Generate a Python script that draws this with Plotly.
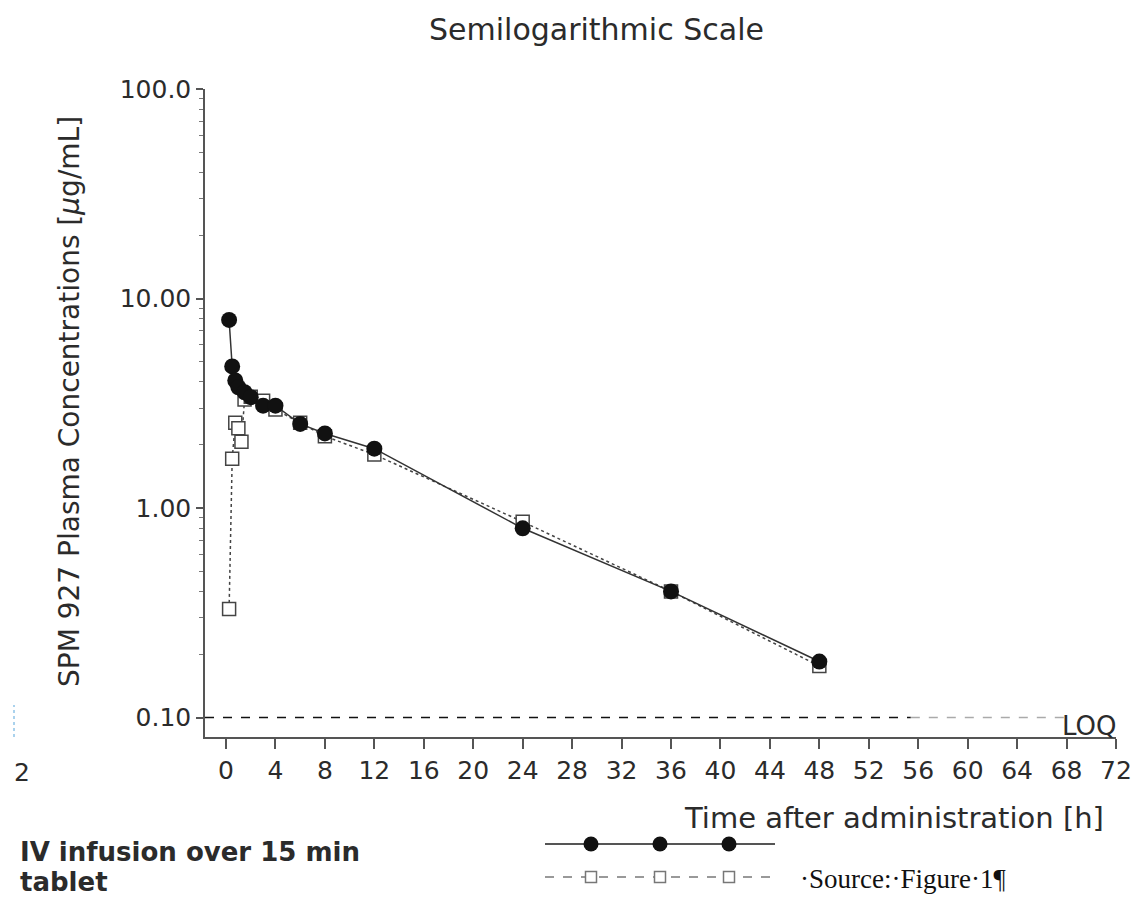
import plotly.graph_objects as go

# ---------------- data ----------------
iv_time = [0.25, 0.5, 0.75, 1, 1.5, 2, 3, 4, 6, 8, 12, 24, 36, 48]
iv_conc = [7.9, 4.74, 4.06, 3.77, 3.57, 3.38, 3.08, 3.08, 2.52, 2.27, 1.92, 0.80, 0.40, 0.185]

tab_time = [0.25, 0.5, 0.75, 1, 1.25, 1.5, 2, 3, 4, 6, 8, 12, 24, 36, 48]
tab_conc = [0.33, 1.72, 2.55, 2.4, 2.07, 3.3, 3.4, 3.25, 2.95, 2.55, 2.2, 1.8, 0.86, 0.40, 0.176]

x_ticks = list(range(0, 73, 4))
y_tick_vals = [0.1, 1, 10, 100]
y_tick_text = ["0.10", "1.00", "10.00", "100.0"]
y_minor_vals = [m * d for d in (0.1, 1, 10) for m in range(2, 10)]

LOQ = 0.1
series_names = ["IV infusion over 15 min", "tablet"]

W, H = 1137, 897
FONT = "DejaVu Sans"
TXT = "#2b2b2b"
AX = "#555555"

def px(x):
    return x / W

def py(y):
    return 1 - y / H

fig = go.Figure()

fig.add_trace(go.Scatter(
    x=tab_time, y=tab_conc, mode="lines+markers", name=series_names[1],
    line=dict(color="#444444", width=1.5, dash="dot"),
    marker=dict(symbol="square", size=13, color="white",
                line=dict(color="#444444", width=1.5)),
    showlegend=False, xaxis="x", yaxis="y"))

fig.add_trace(go.Scatter(
    x=iv_time, y=iv_conc, mode="lines+markers", name=series_names[0],
    line=dict(color="#333333", width=1.5),
    marker=dict(symbol="circle", size=16, color="#111111"),
    showlegend=False, xaxis="x", yaxis="y"))

# ---------- custom legend keys ----------
key_line_x = [0, 1]
key_mark_x = [0.2, 0.5, 0.8]
row_iv, row_tab = 0.8, 0.25
fig.add_trace(go.Scatter(x=key_line_x, y=[row_iv] * 2, mode="lines",
                         line=dict(color="#555555", width=2),
                         showlegend=False, xaxis="x2", yaxis="y2", hoverinfo="skip"))
fig.add_trace(go.Scatter(x=key_mark_x, y=[row_iv] * 3, mode="markers",
                         marker=dict(symbol="circle", size=15, color="#111111"),
                         showlegend=False, xaxis="x2", yaxis="y2", hoverinfo="skip"))
fig.add_trace(go.Scatter(x=key_line_x, y=[row_tab] * 2, mode="lines",
                         line=dict(color="#999999", width=2, dash="dash"),
                         showlegend=False, xaxis="x2", yaxis="y2", hoverinfo="skip"))
fig.add_trace(go.Scatter(x=key_mark_x, y=[row_tab] * 3, mode="markers",
                         marker=dict(symbol="square", size=11, color="white",
                                     line=dict(color="#777777", width=1.5)),
                         showlegend=False, xaxis="x2", yaxis="y2", hoverinfo="skip"))

# ---------- LOQ line ----------
fig.add_shape(type="line", xref="x", yref="y", x0=-1.7, x1=55.4, y0=LOQ, y1=LOQ,
              line=dict(color="#111111", width=1.5, dash="dash"))
fig.add_shape(type="line", xref="x", yref="y", x0=55.4, x1=68, y0=LOQ, y1=LOQ,
              line=dict(color="#aaaaaa", width=1.5, dash="dash"))

# stray blue mark at left edge
fig.add_shape(type="line", xref="paper", yref="paper", x0=px(14), x1=px(14),
              y0=py(737), y1=py(705), line=dict(color="#8fc4e8", width=1.5, dash="dot"))

def note(text, x, y, size, xanchor="center", family=FONT, color=TXT, angle=0):
    return dict(text=text, x=px(x), y=py(y), xref="paper", yref="paper",
                xanchor=xanchor, yanchor="middle", showarrow=False, textangle=angle,
                font=dict(family=family, size=size, color=color))

ann = [
    note("Semilogarithmic Scale", 596, 30, 30),
    note("SPM 927 Plasma Concentrations [<i>μ</i>g/mL]", 70, 402, 28, angle=-90),
    note("Time after administration [h]", 1106, 818, 29, xanchor="right"),
    note("LOQ", 1119, 726, 26, xanchor="right"),
    note("2", 22, 772, 25),
    note("<b>" + series_names[0] + "</b>", 18, 852, 26, xanchor="left"),
    note("<b>" + series_names[1] + "</b>", 18, 882, 26, xanchor="left"),
    note("·Source:·Figure·1¶", 798, 879, 27, xanchor="left",
         family="Liberation Serif", color="#111111"),
]

fig.update_layout(
    width=W, height=H,
    margin=dict(l=0, r=0, t=0, b=0),
    paper_bgcolor="white", plot_bgcolor="white",
    annotations=ann,
    xaxis=dict(domain=[px(205), px(1116)], range=[-1.7, 72], tickmode="array",
               tickvals=x_ticks, ticks="outside", ticklen=10, tickwidth=1.5, tickcolor=AX,
               showline=True, linecolor=AX, linewidth=1.5, showgrid=False, zeroline=False,
               tickfont=dict(family=FONT, size=25, color=TXT), automargin=False,
               anchor="y"),
    yaxis=dict(domain=[py(737), py(89)], type="log", range=[-1.093, 2],
               tickmode="array", tickvals=y_tick_vals, ticktext=y_tick_text,
               ticks="outside", ticklen=7, tickwidth=1.5, tickcolor=AX,
               minor=dict(tickmode="array", tickvals=y_minor_vals, ticks="outside",
                          ticklen=4, tickwidth=1, tickcolor="#777777"),
               showline=True, linecolor=AX, linewidth=1.5, showgrid=False, zeroline=False,
               tickfont=dict(family=FONT, size=25, color=TXT), automargin=False,
               anchor="x"),
    xaxis2=dict(domain=[px(545), px(775)], range=[0, 1], visible=False, anchor="y2"),
    yaxis2=dict(domain=[py(892), py(832)], range=[0, 1], visible=False, anchor="x2"),
)

fig.write_html("out.html", config={"displayModeBar": False},
               post_script="document.body.style.margin='0px';document.body.style.overflow='hidden';")
